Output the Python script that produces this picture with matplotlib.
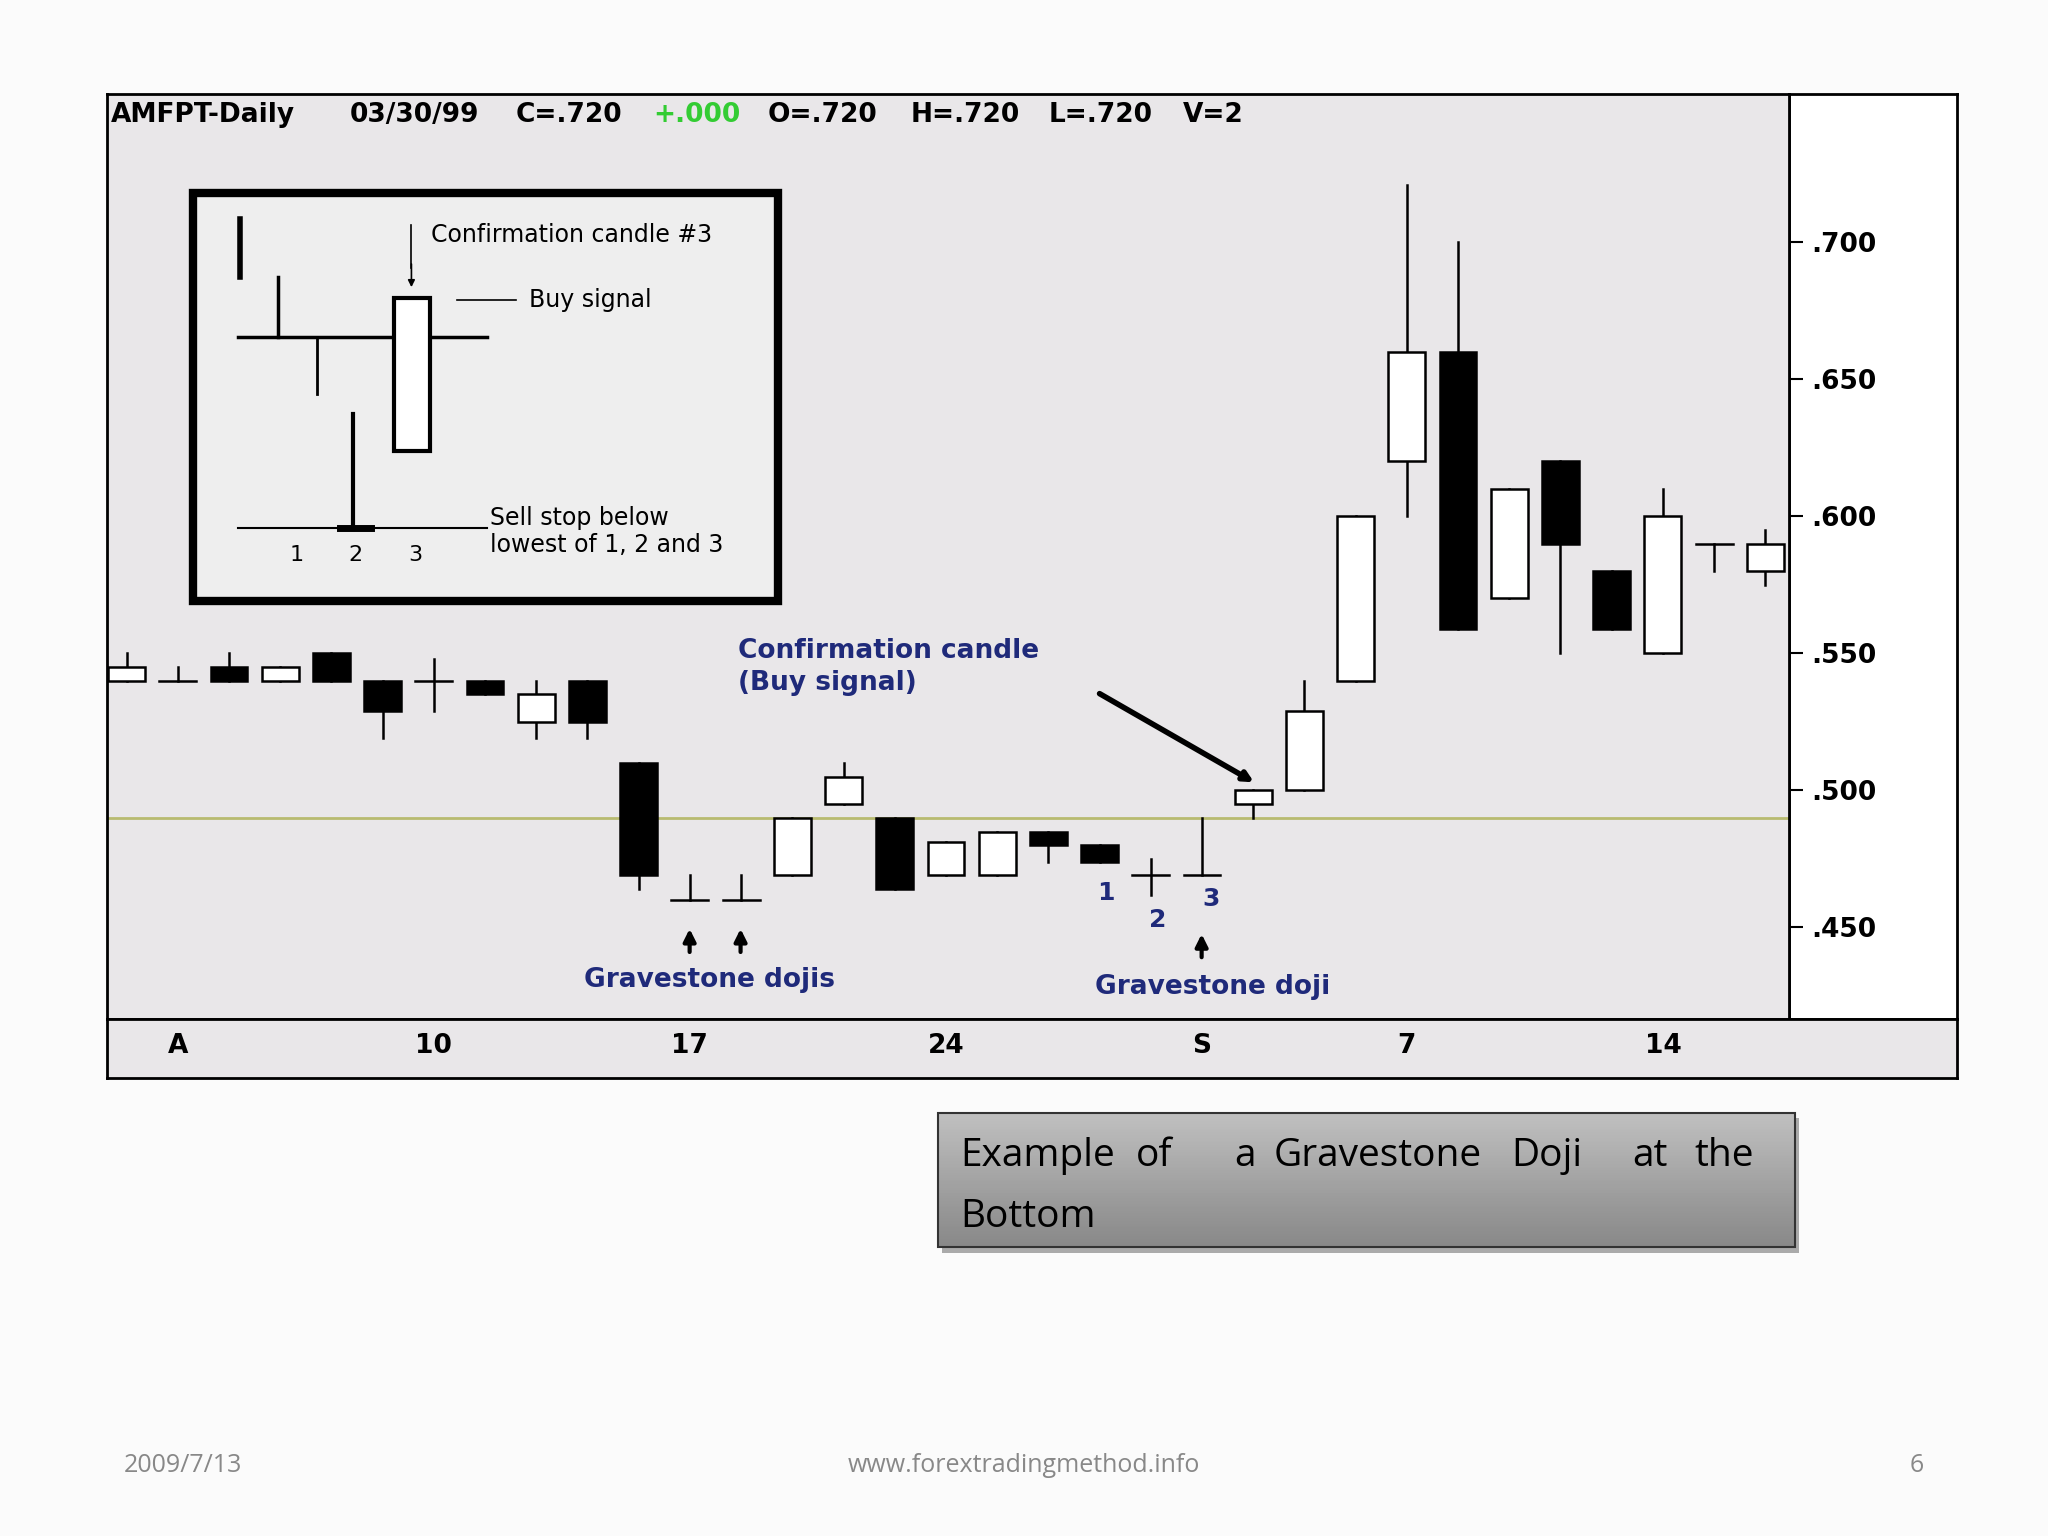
import matplotlib
matplotlib.use("Agg")
import matplotlib.pyplot as plt
import matplotlib.patches as mpatches
import numpy as np

# ── Candle data (AMFPT daily) ─────────────────────────────
opens  = [.540, .540, .545, .540, .550, .540, .540, .540, .525, .540,
          .510, .460, .460, .469, .495, .490, .469, .469, .485, .480,
          .469, .469, .495, .500, .540, .620, .660, .570, .620, .580,
          .550, .590, .580]
closes = [.545, .540, .540, .545, .540, .529, .540, .535, .535, .525,
          .469, .460, .460, .490, .505, .464, .481, .485, .480, .474,
          .469, .469, .500, .529, .600, .660, .559, .610, .590, .559,
          .600, .590, .590]
highs  = [.550, .545, .550, .545, .550, .540, .548, .540, .540, .540,
          .510, .469, .469, .490, .510, .490, .481, .485, .485, .480,
          .475, .490, .500, .540, .600, .721, .700, .610, .620, .580,
          .610, .590, .595]
lows   = [.540, .540, .540, .540, .540, .519, .529, .535, .519, .519,
          .464, .460, .460, .469, .495, .464, .469, .469, .474, .474,
          .462, .469, .490, .500, .540, .600, .559, .570, .550, .559,
          .550, .580, .575]
date_pos    = [1, 6, 11, 16, 21, 25, 30]
date_labels = ["A", "10", "17", "24", "S", "7", "14"]
price_ticks = [.450, .500, .550, .600, .650, .700]
support = .490

BG = "#e9e7e9"
NAVY = "#1f2a7a"
W, H = 1568, 1176  # layout reference grid

fig = plt.figure(figsize=(20.48, 15.36), dpi=100, facecolor="#fbfbfb")

def frac(x0, y0, x1, y1):
    return [x0 / W, 1 - y1 / H, (x1 - x0) / W, (y1 - y0) / H]

# price panel frame (right)
axp = fig.add_axes(frac(1370, 72, 1498, 780))
axp.set_facecolor("white")
axp.set_xlim(0, 1)
axp.set_ylim(0.4167, 0.754)
axp.set_xticks([])
axp.set_yticks(price_ticks)
axp.yaxis.tick_left()
axp.tick_params(axis="y", direction="in", length=10, width=1.5, pad=-16)
axp.set_yticklabels([f"{t:.3f}"[1:] for t in price_ticks],
                    fontsize=19, fontweight="bold", ha="left")
for s in axp.spines.values():
    s.set_linewidth(2)

# main chart
ax = fig.add_axes(frac(82, 72, 1370, 780))
ax.set_facecolor(BG)
ax.set_xlim(-0.38, 32.47)
ax.set_ylim(0.4167, 0.754)
ax.set_xticks([]); ax.set_yticks([])
for s in ax.spines.values():
    s.set_linewidth(2)
ax.axhline(support, color="#b8bb70", lw=2, zorder=1)

bw = 0.36
for i, (o, c, h, l) in enumerate(zip(opens, closes, highs, lows)):
    ax.plot([i, i], [l, h], color="black", lw=1.8, zorder=2)
    if abs(o - c) < 1e-6:
        ax.plot([i - bw, i + bw], [o, o], color="black", lw=1.8, zorder=3)
    else:
        face = "white" if c > o else "black"
        ax.add_patch(mpatches.Rectangle((i - bw, min(o, c)), 2 * bw, abs(c - o),
                                        facecolor=face, edgecolor="black", lw=1.8, zorder=3))

# date strip
ratio = (1498 - 82) / (1370 - 82)
axd = fig.add_axes(frac(82, 780, 1498, 825))
axd.set_facecolor(BG)
axd.set_xlim(-0.38, -0.38 + 32.85 * ratio)
axd.set_ylim(0, 1)
axd.set_yticks([])
axd.set_xticks(date_pos)
axd.set_xticklabels(date_labels, fontsize=19, fontweight="bold")
axd.tick_params(axis="x", length=0, pad=-32)
for s in axd.spines.values():
    s.set_linewidth(2)

# overlay in pixel grid for annotations
ov = fig.add_axes([0, 0, 1, 1], facecolor="none")
ov.set_xlim(0, W); ov.set_ylim(H, 0); ov.axis("off")

hdr = [("AMFPT-Daily", 85, "black"), ("03/30/99", 268, "black"), ("C=.720", 395, "black"),
       ("+.000", 500, "#33cc33"), ("O=.720", 588, "black"), ("H=.720", 697, "black"),
       ("L=.720", 803, "black"), ("V=2", 906, "black")]
for t, x, col in hdr:
    ov.text(x, 88, t, fontsize=19, fontweight="bold", color=col, va="center")

# inset schematic
ov.add_patch(mpatches.Rectangle((148, 148), 448, 312, facecolor="#eeeeee",
                                edgecolor="black", lw=6, zorder=4))
segs = [((184, 168), (184, 212), 4), ((213, 212), (213, 258), 2.5),
        ((182, 258), (373, 258), 2.5), ((243, 258), (243, 302), 2),
        ((270, 317), (270, 405), 3), ((260, 404), (284, 404), 5),
        ((182, 404), (373, 404), 1.5), ((350, 230), (395, 230), 1.2),
        ((315, 172), (315, 205), 1.2)]
for (x0, y0), (x1, y1), lw in segs:
    ov.plot([x0, x1], [y0, y1], color="black", lw=lw, zorder=5)
ov.annotate("", xy=(315, 222), xytext=(315, 200),
            arrowprops=dict(arrowstyle="-|>", color="black", lw=1.2), zorder=5)
ov.add_patch(mpatches.Rectangle((302, 228), 27, 117, facecolor="white",
                                edgecolor="black", lw=3, zorder=5))
ov.text(330, 180, "Confirmation candle #3", fontsize=17, va="center", zorder=6)
ov.text(405, 230, "Buy signal", fontsize=17, va="center", zorder=6)
ov.text(375, 407, "Sell stop below\nlowest of 1, 2 and 3", fontsize=17,
        va="center", linespacing=1.2, zorder=6)
for t, x in [("1", 227), ("2", 272), ("3", 318)]:
    ov.text(x, 425, t, fontsize=16, ha="center", va="center", zorder=6)

# annotations
ov.text(565, 511, "Confirmation candle\n(Buy signal)", fontsize=19, fontweight="bold",
        color=NAVY, va="center", linespacing=1.3)
ov.annotate("", xy=(962, 600), xytext=(840, 530),
            arrowprops=dict(arrowstyle="-|>", color="black", lw=4, mutation_scale=14))
ov.text(447, 750, "Gravestone dojis", fontsize=19, fontweight="bold", color=NAVY, va="center")
ov.text(838, 756, "Gravestone doji", fontsize=19, fontweight="bold", color=NAVY, va="center")
for x in (528, 567, 920):
    y0 = 735 if x == 920 else 731
    ov.annotate("", xy=(x, y0 - 22), xytext=(x, y0),
                arrowprops=dict(arrowstyle="-|>", color="black", lw=3, mutation_scale=18))
for t, x, y in [("1", 847, 684), ("2", 886, 704), ("3", 927, 688)]:
    ov.text(x, y, t, fontsize=18, fontweight="bold", color=NAVY, ha="center", va="center")

# caption box
ov.add_patch(mpatches.Rectangle((721, 856), 656, 103, facecolor="#aaaaaa",
                                edgecolor="none", zorder=1))
grad = np.linspace(0, 1, 100).reshape(-1, 1)
ov.imshow(grad, extent=(718, 1374, 955, 852), cmap="Greys", vmin=-2.0, vmax=3.5,
          aspect="auto", zorder=2)
ov.add_patch(mpatches.Rectangle((718, 852), 656, 103, facecolor="none",
                                edgecolor="#333333", lw=1.5, zorder=3))
words = ["Example", "of", "a", "Gravestone", "Doji", "at", "the"]
word_x = [735, 870, 945, 975, 1157, 1250, 1297]
for w_, x in zip(words, word_x):
    ov.text(x, 885, w_, fontsize=28, va="center", family="Open Sans", zorder=4)
ov.text(735, 932, "Bottom", fontsize=28, va="center", family="Open Sans", zorder=4)

# footer
ov.text(95, 1122, "2009/7/13", fontsize=18, color="#888888", va="center", family="Open Sans")
ov.text(784, 1122, "www.forextradingmethod.info", fontsize=18, color="#888888",
        va="center", ha="center", family="Open Sans")
ov.text(1473, 1122, "6", fontsize=18, color="#888888", va="center", ha="right", family="Open Sans")
ov.set_xlim(0, W); ov.set_ylim(H, 0)

fig.savefig("out.png", dpi=100, facecolor=fig.get_facecolor())
